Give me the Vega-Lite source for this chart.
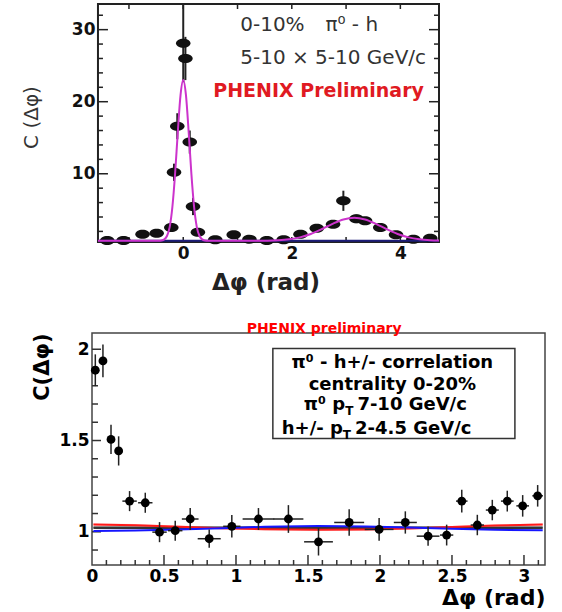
{
  "$schema": "https://vega.github.io/schema/vega-lite/v6.json",
  "background": "white",
  "padding": {"left": 21, "top": 3, "right": 5, "bottom": 5},
  "spacing": 27,
  "config": {
    "font": "DejaVu Sans",
    "axis": {"grid": false, "ticks": false, "domain": false, "labelColor": "#111", "titleColor": "#111", "labelFlush": false, "labelOverlap": false}
  },
  "datasets": {
    "top_pts": [
      {"dphi": -1.40, "c": 0.75, "err": 0.2},
      {"dphi": -1.10, "c": 0.75, "err": 0.2},
      {"dphi": -0.75, "c": 1.61, "err": 0.3},
      {"dphi": -0.49, "c": 1.75, "err": 0.3},
      {"dphi": -0.22, "c": 2.54, "err": 0.4},
      {"dphi": -0.17, "c": 10.2, "err": 1.2},
      {"dphi": -0.11, "c": 16.6, "err": 1.8},
      {"dphi": 0.0, "c": 28.1, "err": 5.4},
      {"dphi": 0.04, "c": 26.0, "err": 3.0},
      {"dphi": 0.12, "c": 14.4, "err": 1.6},
      {"dphi": 0.18, "c": 5.46, "err": 1.2},
      {"dphi": 0.27, "c": 1.89, "err": 0.4},
      {"dphi": 0.59, "c": 0.83, "err": 0.2},
      {"dphi": 0.93, "c": 1.53, "err": 0.3},
      {"dphi": 1.22, "c": 0.92, "err": 0.2},
      {"dphi": 1.54, "c": 0.75, "err": 0.2},
      {"dphi": 1.85, "c": 0.83, "err": 0.2},
      {"dphi": 2.16, "c": 1.61, "err": 0.3},
      {"dphi": 2.46, "c": 2.44, "err": 0.3},
      {"dphi": 2.76, "c": 3.0, "err": 0.3},
      {"dphi": 2.95, "c": 6.25, "err": 1.4},
      {"dphi": 3.19, "c": 3.75, "err": 0.6},
      {"dphi": 3.35, "c": 3.47, "err": 0.4},
      {"dphi": 3.63, "c": 2.54, "err": 0.4},
      {"dphi": 3.92, "c": 1.53, "err": 0.3},
      {"dphi": 4.24, "c": 0.92, "err": 0.2},
      {"dphi": 4.55, "c": 1.06, "err": 0.2}
    ],
    "top_fit": [
      {"dphi": -1.571, "c": 0.7}, {"dphi": -0.45, "c": 0.7}, {"dphi": -0.4, "c": 0.74},
      {"dphi": -0.35, "c": 0.89}, {"dphi": -0.3, "c": 1.36}, {"dphi": -0.25, "c": 2.6},
      {"dphi": -0.2, "c": 5.4}, {"dphi": -0.15, "c": 10.0}, {"dphi": -0.1, "c": 15.8},
      {"dphi": -0.05, "c": 20.9}, {"dphi": 0.0, "c": 23.0}, {"dphi": 0.05, "c": 20.9},
      {"dphi": 0.1, "c": 15.8}, {"dphi": 0.15, "c": 10.0}, {"dphi": 0.2, "c": 5.4},
      {"dphi": 0.25, "c": 2.6}, {"dphi": 0.3, "c": 1.36}, {"dphi": 0.35, "c": 0.89},
      {"dphi": 0.4, "c": 0.74}, {"dphi": 0.45, "c": 0.7}, {"dphi": 1.55, "c": 0.72},
      {"dphi": 1.75, "c": 0.77}, {"dphi": 1.95, "c": 0.9}, {"dphi": 2.15, "c": 1.17},
      {"dphi": 2.35, "c": 1.64}, {"dphi": 2.55, "c": 2.3}, {"dphi": 2.75, "c": 3.05},
      {"dphi": 2.95, "c": 3.66}, {"dphi": 3.15, "c": 3.9}, {"dphi": 3.35, "c": 3.66},
      {"dphi": 3.55, "c": 3.05}, {"dphi": 3.75, "c": 2.3}, {"dphi": 3.95, "c": 1.64},
      {"dphi": 4.15, "c": 1.17}, {"dphi": 4.35, "c": 0.9}, {"dphi": 4.55, "c": 0.77},
      {"dphi": 4.712, "c": 0.73}
    ],
    "bot_pts": [
      {"x": 0.023, "y": 1.885, "xerr": 0.02, "yerr": 0.087},
      {"x": 0.076, "y": 1.936, "xerr": 0.02, "yerr": 0.09},
      {"x": 0.132, "y": 1.506, "xerr": 0.02, "yerr": 0.08},
      {"x": 0.185, "y": 1.443, "xerr": 0.02, "yerr": 0.08},
      {"x": 0.261, "y": 1.168, "xerr": 0.05, "yerr": 0.055},
      {"x": 0.37, "y": 1.159, "xerr": 0.05, "yerr": 0.055},
      {"x": 0.469, "y": 0.998, "xerr": 0.05, "yerr": 0.055},
      {"x": 0.578, "y": 1.006, "xerr": 0.05, "yerr": 0.055},
      {"x": 0.682, "y": 1.07, "xerr": 0.058, "yerr": 0.06},
      {"x": 0.814, "y": 0.962, "xerr": 0.08, "yerr": 0.05},
      {"x": 0.971, "y": 1.03, "xerr": 0.06, "yerr": 0.062},
      {"x": 1.156, "y": 1.07, "xerr": 0.11, "yerr": 0.06},
      {"x": 1.364, "y": 1.07, "xerr": 0.104, "yerr": 0.076},
      {"x": 1.573, "y": 0.945, "xerr": 0.1, "yerr": 0.075},
      {"x": 1.786, "y": 1.051, "xerr": 0.104, "yerr": 0.073},
      {"x": 1.994, "y": 1.013, "xerr": 0.1, "yerr": 0.062},
      {"x": 2.176, "y": 1.051, "xerr": 0.08, "yerr": 0.061},
      {"x": 2.334, "y": 0.976, "xerr": 0.079, "yerr": 0.053},
      {"x": 2.463, "y": 0.982, "xerr": 0.046, "yerr": 0.057},
      {"x": 2.568, "y": 1.168, "xerr": 0.04, "yerr": 0.062},
      {"x": 2.676, "y": 1.037, "xerr": 0.046, "yerr": 0.056},
      {"x": 2.78, "y": 1.119, "xerr": 0.045, "yerr": 0.056},
      {"x": 2.884, "y": 1.168, "xerr": 0.044, "yerr": 0.057},
      {"x": 2.991, "y": 1.142, "xerr": 0.044, "yerr": 0.059},
      {"x": 3.095, "y": 1.197, "xerr": 0.037, "yerr": 0.059}
    ],
    "bot_fits": [
      {"dphi": 0.01, "c": 1.026, "series": "grey"}, {"dphi": 3.13, "c": 1.026, "series": "grey"},
      {"dphi": 0.01, "c": 1.021, "series": "dark"}, {"dphi": 3.13, "c": 1.021, "series": "dark"},
      {"dphi": 0.01, "c": 1.040, "series": "red"}, {"dphi": 0.3, "c": 1.036, "series": "red"},
      {"dphi": 0.6, "c": 1.028, "series": "red"}, {"dphi": 0.9, "c": 1.020, "series": "red"},
      {"dphi": 1.2, "c": 1.014, "series": "red"}, {"dphi": 1.57, "c": 1.011, "series": "red"},
      {"dphi": 1.9, "c": 1.013, "series": "red"}, {"dphi": 2.2, "c": 1.018, "series": "red"},
      {"dphi": 2.5, "c": 1.026, "series": "red"}, {"dphi": 2.8, "c": 1.034, "series": "red"},
      {"dphi": 3.13, "c": 1.040, "series": "red"},
      {"dphi": 0.01, "c": 1.004, "series": "blue"}, {"dphi": 0.3, "c": 1.007, "series": "blue"},
      {"dphi": 0.6, "c": 1.013, "series": "blue"}, {"dphi": 0.9, "c": 1.020, "series": "blue"},
      {"dphi": 1.2, "c": 1.027, "series": "blue"}, {"dphi": 1.57, "c": 1.031, "series": "blue"},
      {"dphi": 1.9, "c": 1.029, "series": "blue"}, {"dphi": 2.2, "c": 1.024, "series": "blue"},
      {"dphi": 2.5, "c": 1.017, "series": "blue"}, {"dphi": 2.8, "c": 1.011, "series": "blue"},
      {"dphi": 3.13, "c": 1.008, "series": "blue"}
    ],
    "bot_band": [
      {"dphi": 0.01, "lo": 1.034, "hi": 1.046}, {"dphi": 0.3, "lo": 1.030, "hi": 1.042},
      {"dphi": 0.6, "lo": 1.022, "hi": 1.034}, {"dphi": 0.9, "lo": 1.014, "hi": 1.026},
      {"dphi": 1.2, "lo": 1.008, "hi": 1.020}, {"dphi": 1.57, "lo": 1.005, "hi": 1.017},
      {"dphi": 1.9, "lo": 1.007, "hi": 1.019}, {"dphi": 2.2, "lo": 1.012, "hi": 1.024},
      {"dphi": 2.5, "lo": 1.020, "hi": 1.032}, {"dphi": 2.8, "lo": 1.028, "hi": 1.040},
      {"dphi": 3.13, "lo": 1.034, "hi": 1.046}
    ]
  },
  "vconcat": [
    {
      "width": 347,
      "height": 238,
      "view": {"stroke": null},
      "resolve": {"axis": {"x": "independent", "y": "independent"}},
      "layer": [
        {
          "data": {"values": [{}]},
          "mark": {"type": "rect", "filled": false, "stroke": "#222", "strokeWidth": 2},
          "encoding": {
            "x": {"datum": -1.571, "type": "quantitative", "scale": {"domain": [-1.681, 4.712], "nice": false, "zero": false}, "axis": null},
            "x2": {"datum": 4.712},
            "y": {"datum": 0.53, "type": "quantitative", "scale": {"domain": [0.53, 33.56], "nice": false, "zero": false}, "axis": null},
            "y2": {"datum": 33.56}
          }
        },
        {
          "data": {"values": [{"tv": 10}, {"tv": 20}, {"tv": 30}]},
          "mark": {"type": "tick", "orient": "horizontal", "size": 10, "thickness": 1.5, "color": "#222", "opacity": 1},
          "encoding": {"y": {"field": "tv", "type": "quantitative", "axis": null}, "x": {"datum": -1.479, "type": "quantitative", "axis": null}}
        },
        {
          "data": {"values": [{"tv": 2}, {"tv": 4}, {"tv": 6}, {"tv": 8}, {"tv": 12}, {"tv": 14}, {"tv": 16}, {"tv": 18}, {"tv": 22}, {"tv": 24}, {"tv": 26}, {"tv": 28}, {"tv": 32}]},
          "mark": {"type": "tick", "orient": "horizontal", "size": 5, "thickness": 1.5, "color": "#222", "opacity": 1},
          "encoding": {"y": {"field": "tv", "type": "quantitative", "axis": null}, "x": {"datum": -1.525, "type": "quantitative", "axis": null}}
        },
        {
          "data": {"values": [{"tv": 10}, {"tv": 20}, {"tv": 30}]},
          "mark": {"type": "tick", "orient": "horizontal", "size": 10, "thickness": 1.5, "color": "#222", "opacity": 1},
          "encoding": {"y": {"field": "tv", "type": "quantitative", "axis": null}, "x": {"datum": 4.62, "type": "quantitative", "axis": null}}
        },
        {
          "data": {"values": [{"tv": 2}, {"tv": 4}, {"tv": 6}, {"tv": 8}, {"tv": 12}, {"tv": 14}, {"tv": 16}, {"tv": 18}, {"tv": 22}, {"tv": 24}, {"tv": 26}, {"tv": 28}, {"tv": 32}]},
          "mark": {"type": "tick", "orient": "horizontal", "size": 5, "thickness": 1.5, "color": "#222", "opacity": 1},
          "encoding": {"y": {"field": "tv", "type": "quantitative", "axis": null}, "x": {"datum": 4.666, "type": "quantitative", "axis": null}}
        },
        {
          "data": {"values": [{"tv": -1}, {"tv": 0}, {"tv": 1}, {"tv": 2}, {"tv": 3}, {"tv": 4}]},
          "mark": {"type": "tick", "orient": "vertical", "size": 5, "thickness": 1.5, "color": "#222", "opacity": 1},
          "encoding": {"x": {"field": "tv", "type": "quantitative", "axis": null}, "y": {"datum": 0.877, "type": "quantitative", "axis": null}}
        },
        {
          "data": {"values": [{"tv": -1}, {"tv": 0}, {"tv": 1}, {"tv": 2}, {"tv": 3}, {"tv": 4}]},
          "mark": {"type": "tick", "orient": "vertical", "size": 5, "thickness": 1.5, "color": "#222", "opacity": 1},
          "encoding": {"x": {"field": "tv", "type": "quantitative", "axis": null}, "y": {"datum": 33.213, "type": "quantitative", "axis": null}}
        },
        {
          "data": {"name": "top_pts"},
          "mark": {"type": "errorbar", "color": "#222", "thickness": 2},
          "encoding": {
            "x": {"field": "dphi", "type": "quantitative", "axis": null},
            "y": {"field": "c", "type": "quantitative", "axis": null},
            "yError": {"field": "err"}
          }
        },
        {
          "data": {"name": "top_pts"},
          "mark": {"type": "point", "filled": true, "color": "#111", "opacity": 1, "size": 210, "shape": "M -1 0 A 1 0.62 0 1 0 1 0 A 1 0.62 0 1 0 -1 0 Z"},
          "encoding": {
            "x": {
              "field": "dphi", "type": "quantitative",
              "scale": {"domain": [-1.681, 4.712], "nice": false, "zero": false},
              "axis": {
                "orient": "bottom", "values": [0, 2, 4],
                "labelPadding": 3, "labelFontSize": 17, "labelFontWeight": "bold",
                "title": "Δφ (rad)", "titleFontSize": 23, "titleFontWeight": "bold", "titlePadding": 10, "titleColor": "#222"
              }
            },
            "y": {
              "field": "c", "type": "quantitative",
              "scale": {"domain": [0.53, 33.56], "nice": false, "zero": false},
              "axis": {
                "orient": "left", "offset": -6, "values": [10, 20, 30],
                "labelPadding": 3, "labelFontSize": 17, "labelFontWeight": "bold",
                "title": "C (Δφ)", "titleFontSize": 20, "titleFontWeight": "normal", "titleColor": "#333", "titlePadding": 30, "titleY": 113
              }
            }
          }
        },
        {
          "data": {"values": [{}]},
          "mark": {"type": "rule", "color": "#1c1c78", "strokeWidth": 2},
          "encoding": {
            "x": {"datum": -1.571, "type": "quantitative", "axis": null},
            "x2": {"datum": 4.712},
            "y": {"datum": 0.7, "type": "quantitative", "axis": null}
          }
        },
        {
          "data": {"name": "top_fit"},
          "mark": {"type": "line", "color": "#cc33cc", "strokeWidth": 2, "interpolate": "monotone"},
          "encoding": {
            "x": {"field": "dphi", "type": "quantitative", "axis": null},
            "y": {"field": "c", "type": "quantitative", "axis": null}
          }
        },
        {
          "data": {"values": [{}]},
          "mark": {"type": "text", "text": "0-10%", "align": "left", "baseline": "middle", "fontSize": 20, "color": "#333"},
          "encoding": {"x": {"datum": 1.05, "type": "quantitative", "axis": null}, "y": {"datum": 30.6, "type": "quantitative", "axis": null}}
        },
        {
          "data": {"values": [{}]},
          "mark": {"type": "text", "text": "π⁰ - h", "align": "left", "baseline": "middle", "fontSize": 20, "color": "#333"},
          "encoding": {"x": {"datum": 2.62, "type": "quantitative", "axis": null}, "y": {"datum": 30.6, "type": "quantitative", "axis": null}}
        },
        {
          "data": {"values": [{}]},
          "mark": {"type": "text", "text": "5-10 × 5-10 GeV/c", "align": "left", "baseline": "middle", "fontSize": 20, "color": "#333"},
          "encoding": {"x": {"datum": 1.05, "type": "quantitative", "axis": null}, "y": {"datum": 26.05, "type": "quantitative", "axis": null}}
        },
        {
          "data": {"values": [{}]},
          "mark": {"type": "text", "text": "PHENIX Preliminary", "align": "left", "baseline": "middle", "fontSize": 19, "fontWeight": "bold", "color": "#e01a22"},
          "encoding": {"x": {"datum": 0.553, "type": "quantitative", "axis": null}, "y": {"datum": 21.5, "type": "quantitative", "axis": null}}
        }
      ]
    },
    {
      "width": 453,
      "height": 232,
      "view": {"stroke": "#444", "strokeWidth": 1.5},
      "resolve": {"axis": {"x": "independent", "y": "independent"}},
      "layer": [
        {
          "data": {"name": "bot_band"},
          "mark": {"type": "area", "color": "#ff7070", "opacity": 0.45},
          "encoding": {
            "x": {"field": "dphi", "type": "quantitative", "scale": {"domain": [0, 3.146], "nice": false, "zero": false}, "axis": null},
            "y": {"field": "lo", "type": "quantitative", "scale": {"domain": [0.818, 2.089], "nice": false, "zero": false}, "axis": null},
            "y2": {"field": "hi"}
          }
        },
        {
          "data": {"values": [{"tv": 1}, {"tv": 1.5}, {"tv": 2}]},
          "mark": {"type": "tick", "orient": "horizontal", "size": 9, "thickness": 1.5, "color": "#333", "opacity": 1},
          "encoding": {"y": {"field": "tv", "type": "quantitative", "axis": null}, "x": {"datum": 0.0312, "type": "quantitative", "axis": null}}
        },
        {
          "data": {"values": [{"tv": 0.9}, {"tv": 1.1}, {"tv": 1.2}, {"tv": 1.3}, {"tv": 1.4}, {"tv": 1.6}, {"tv": 1.7}, {"tv": 1.8}, {"tv": 1.9}]},
          "mark": {"type": "tick", "orient": "horizontal", "size": 6, "thickness": 1.5, "color": "#333", "opacity": 1},
          "encoding": {"y": {"field": "tv", "type": "quantitative", "axis": null}, "x": {"datum": 0.0208, "type": "quantitative", "axis": null}}
        },
        {
          "data": {"values": [{"tv": 0.5}, {"tv": 1}, {"tv": 1.5}, {"tv": 2}, {"tv": 2.5}, {"tv": 3}]},
          "mark": {"type": "tick", "orient": "vertical", "size": 10, "thickness": 1.5, "color": "#333", "opacity": 1},
          "encoding": {"x": {"field": "tv", "type": "quantitative", "axis": null}, "y": {"datum": 0.8454, "type": "quantitative", "axis": null}}
        },
        {
          "data": {"values": [{"tv": 0.1}, {"tv": 0.2}, {"tv": 0.3}, {"tv": 0.4}, {"tv": 0.6}, {"tv": 0.7}, {"tv": 0.8}, {"tv": 0.9}, {"tv": 1.1}, {"tv": 1.2}, {"tv": 1.3}, {"tv": 1.4}, {"tv": 1.6}, {"tv": 1.7}, {"tv": 1.8}, {"tv": 1.9}, {"tv": 2.1}, {"tv": 2.2}, {"tv": 2.3}, {"tv": 2.4}, {"tv": 2.6}, {"tv": 2.7}, {"tv": 2.8}, {"tv": 2.9}, {"tv": 3.1}]},
          "mark": {"type": "tick", "orient": "vertical", "size": 5, "thickness": 1.5, "color": "#333", "opacity": 1},
          "encoding": {"x": {"field": "tv", "type": "quantitative", "axis": null}, "y": {"datum": 0.8317, "type": "quantitative", "axis": null}}
        },
        {
          "data": {"name": "bot_fits"},
          "mark": {"type": "line", "strokeWidth": 2},
          "encoding": {
            "x": {"field": "dphi", "type": "quantitative", "axis": null},
            "y": {"field": "c", "type": "quantitative", "axis": null},
            "color": {"field": "series", "type": "nominal", "scale": {"domain": ["grey", "dark", "red", "blue"], "range": ["#8a8a8a", "#333333", "#ff1a1a", "#1515ff"]}, "legend": null}
          }
        },
        {
          "data": {"name": "bot_pts"},
          "mark": {"type": "errorbar", "color": "#222", "thickness": 1.5},
          "encoding": {
            "x": {"field": "x", "type": "quantitative", "axis": null},
            "y": {"field": "y", "type": "quantitative", "axis": null},
            "yError": {"field": "yerr"}
          }
        },
        {
          "data": {"name": "bot_pts"},
          "mark": {"type": "errorbar", "color": "#222", "thickness": 1.5},
          "encoding": {
            "x": {"field": "x", "type": "quantitative", "axis": null},
            "y": {"field": "y", "type": "quantitative", "axis": null},
            "xError": {"field": "xerr"}
          }
        },
        {
          "data": {"name": "bot_pts"},
          "mark": {"type": "circle", "color": "#000", "opacity": 1, "size": 78},
          "encoding": {
            "x": {
              "field": "x", "type": "quantitative",
              "scale": {"domain": [0, 3.146], "nice": false, "zero": false},
              "axis": {
                "orient": "bottom",
                "values": [0, 0.5, 1, 1.5, 2, 2.5, 3],
                "labelExpr": "format(datum.value, '~g')",
                "labelPadding": 3, "labelFontSize": 17, "labelFontWeight": "bold", "labelColor": "#000",
                "title": "Δφ (rad)", "titleAnchor": "end", "titleFontSize": 22, "titleFontWeight": "bold", "titlePadding": 3, "titleColor": "#000"
              }
            },
            "y": {
              "field": "y", "type": "quantitative",
              "scale": {"domain": [0.818, 2.089], "nice": false, "zero": false},
              "axis": {
                "orient": "left",
                "values": [1, 1.5, 2],
                "labelExpr": "format(datum.value, '~g')",
                "labelPadding": 3, "labelFontSize": 17, "labelFontWeight": "bold", "labelColor": "#000",
                "title": "C(Δφ)", "titleAnchor": "end", "titleFontSize": 21, "titleFontWeight": "bold", "titlePadding": 6, "titleColor": "#000"
              }
            }
          }
        },
        {
          "data": {"values": [{}]},
          "mark": {"type": "rect", "fill": "white", "stroke": "#333", "strokeWidth": 1.5},
          "encoding": {
            "x": {"datum": 1.256, "type": "quantitative", "axis": null},
            "x2": {"datum": 2.937},
            "y": {"datum": 1.511, "type": "quantitative", "axis": null},
            "y2": {"datum": 2.004}
          }
        },
        {
          "data": {"values": [{}]},
          "mark": {"type": "text", "text": "PHENIX preliminary", "align": "center", "baseline": "alphabetic", "fontSize": 14, "fontWeight": "bold", "color": "#ff0000"},
          "encoding": {"x": {"datum": 1.612, "type": "quantitative", "axis": null}, "y": {"datum": 2.089, "type": "quantitative", "axis": null}}
        },
        {
          "data": {"values": [{}]},
          "mark": {"type": "text", "text": "π⁰ - h+/- correlation", "align": "center", "baseline": "middle", "fontSize": 18, "fontWeight": "bold", "color": "#000"},
          "encoding": {"x": {"datum": 2.086, "type": "quantitative", "axis": null}, "y": {"datum": 1.927, "type": "quantitative", "axis": null}}
        },
        {
          "data": {"values": [{}]},
          "mark": {"type": "text", "text": "centrality 0-20%", "align": "center", "baseline": "middle", "fontSize": 18, "fontWeight": "bold", "color": "#000"},
          "encoding": {"x": {"datum": 2.086, "type": "quantitative", "axis": null}, "y": {"datum": 1.803, "type": "quantitative", "axis": null}}
        },
        {
          "data": {"values": [{}]},
          "mark": {"type": "text", "text": "π⁰ p", "align": "right", "baseline": "middle", "fontSize": 18, "fontWeight": "bold", "color": "#000"},
          "encoding": {"x": {"datum": 1.758, "type": "quantitative", "axis": null}, "y": {"datum": 1.692, "type": "quantitative", "axis": null}}
        },
        {
          "data": {"values": [{}]},
          "mark": {"type": "text", "text": "T", "align": "left", "baseline": "middle", "fontSize": 12, "fontWeight": "bold", "color": "#000", "dy": 6},
          "encoding": {"x": {"datum": 1.758, "type": "quantitative", "axis": null}, "y": {"datum": 1.692, "type": "quantitative", "axis": null}}
        },
        {
          "data": {"values": [{}]},
          "mark": {"type": "text", "text": "7-10 GeV/c", "align": "left", "baseline": "middle", "fontSize": 18, "fontWeight": "bold", "color": "#000"},
          "encoding": {"x": {"datum": 1.843, "type": "quantitative", "axis": null}, "y": {"datum": 1.692, "type": "quantitative", "axis": null}}
        },
        {
          "data": {"values": [{}]},
          "mark": {"type": "text", "text": "h+/- p", "align": "right", "baseline": "middle", "fontSize": 18, "fontWeight": "bold", "color": "#000"},
          "encoding": {"x": {"datum": 1.742, "type": "quantitative", "axis": null}, "y": {"datum": 1.564, "type": "quantitative", "axis": null}}
        },
        {
          "data": {"values": [{}]},
          "mark": {"type": "text", "text": "T", "align": "left", "baseline": "middle", "fontSize": 12, "fontWeight": "bold", "color": "#000", "dy": 6},
          "encoding": {"x": {"datum": 1.742, "type": "quantitative", "axis": null}, "y": {"datum": 1.564, "type": "quantitative", "axis": null}}
        },
        {
          "data": {"values": [{}]},
          "mark": {"type": "text", "text": "2-4.5 GeV/c", "align": "left", "baseline": "middle", "fontSize": 18, "fontWeight": "bold", "color": "#000"},
          "encoding": {"x": {"datum": 1.827, "type": "quantitative", "axis": null}, "y": {"datum": 1.564, "type": "quantitative", "axis": null}}
        }
      ]
    }
  ]
}
